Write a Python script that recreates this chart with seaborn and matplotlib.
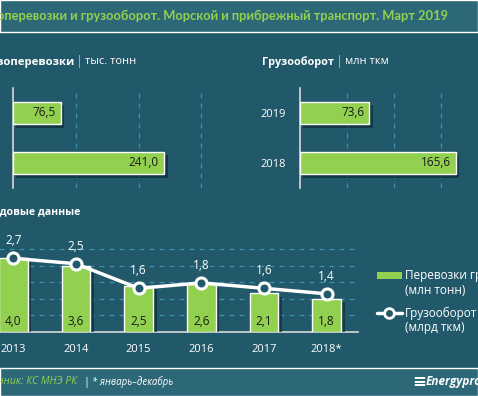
import numpy as np
import pandas as pd
import matplotlib
matplotlib.use('Agg')
import matplotlib.pyplot as plt
import matplotlib.patheffects as pe
from matplotlib.patches import Rectangle
from matplotlib.lines import Line2D
import seaborn as sns

# data
title = 'Грузоперевозки и грузооборот. Морской и прибрежный транспорт. Март 2019'
month_years = ['2019', '2018']
cargo_month = [76.5, 241.0]      # тыс. тонн
turnover_month = [73.6, 165.6]   # млн ткм

years = ['2013', '2014', '2015', '2016', '2017', '2018*']
cargo_year = [4.0, 3.6, 2.5, 2.6, 2.1, 1.8]      # млн тонн
turnover_year = [2.7, 2.5, 1.6, 1.8, 1.6, 1.4]   # млрд ткм
legend_labels = [('Перевозки грузов', '(млн тонн)'), ('Грузооборот', '(млрд ткм)')]

# colours
BG = '#22596a'
BAND = '#2c6878'
GREEN = '#92d050'
GRID = '#3f8fae'
AXIS = '#d9d9d9'

sns.set_theme(style='white')
plt.rcParams['font.family'] = ['Open Sans', 'DejaVu Sans']

W, H = 478, 396
fig = plt.figure(figsize=(W / 100, H / 100), dpi=100, facecolor=BG)


def px(x, y, w, h):
    # pixel box (top-left origin) -> figure fraction
    return [x / W, (H - y - h) / H, w / W, h / H]


def fx(x):
    return x / W


def fy(y):
    return 1 - y / H


def fmt(v):
    return f'{v:.1f}'.replace('.', ',')


shadow = [pe.SimplePatchShadow(offset=(2.5, -2.5), shadow_rgbFace='#0c2c36', alpha=0.7), pe.Normal()]

# title and footer bands
fig.patches.append(Rectangle((0, fy(32)), 1, 32 / H, transform=fig.transFigure,
                             facecolor=BAND, zorder=0))
fig.patches.append(Rectangle((0, 0), 1, 28 / H, transform=fig.transFigure,
                             facecolor=BAND, zorder=0))
fig.text(fx(448), fy(16), title, color=GREEN, fontsize=9.3, fontweight='bold',
         family='Lato', ha='right', va='center')


def month_panel(box, values, xmax, step):
    ax = fig.add_axes(px(*box))
    ax.set_facecolor('none')
    df = pd.DataFrame({'year': month_years, 'value': values})
    sns.barplot(data=df, x='value', y='year', orient='h', color=GREEN, width=0.45,
                saturation=1, ax=ax, zorder=3)
    for p in ax.patches:
        p.set_path_effects(shadow)
    for i, v in enumerate(values):
        ax.text(v - xmax * 0.025, i, fmt(v), ha='right', va='center', fontsize=8.5,
                color='#1a1a1a', zorder=4)
    ax.set_xlim(0, xmax)
    ax.set_ylim(1.5, -0.5)
    ax.set_xticks(np.arange(step, xmax, step))
    ax.xaxis.grid(True, color=GRID, linestyle=(0, (4, 4)), linewidth=0.9)
    ax.set_axisbelow(True)
    ax.tick_params(axis='x', length=0, labelbottom=False)
    ax.tick_params(axis='y', length=0, colors='white', labelsize=8, pad=10)
    ax.set_xlabel('')
    ax.set_ylabel('')
    for s in ['top', 'right', 'bottom']:
        ax.spines[s].set_visible(False)
    ax.spines['left'].set_color(AXIS)
    ax.spines['left'].set_linewidth(1.2)
    return ax


month_panel((13, 88, 214, 100), cargo_month, 341, 100)
month_panel((300, 88, 170, 100), turnover_month, 181, 50)

# panel headers
hy = fy(62)
fig.text(fx(74), hy, 'Грузоперевозки', color='white', fontsize=8.2, fontweight='bold',
         ha='right', va='center')
fig.text(fx(79), hy, '|', color='#7fc4e0', fontsize=9, ha='center', va='center')
fig.text(fx(85), hy, 'тыс. тонн', color='white', fontsize=8, ha='left', va='center')
fig.text(fx(262), hy, 'Грузооборот', color='white', fontsize=7.8, fontweight='bold',
         ha='left', va='center')
fig.text(fx(339), hy, '|', color='#7fc4e0', fontsize=9, ha='center', va='center')
fig.text(fx(345), hy, 'млн ткм', color='white', fontsize=8, ha='left', va='center')
fig.text(fx(80), fy(212), 'Годовые данные', color='white', fontsize=7.6,
         fontweight='bold', ha='right', va='center')

# annual panel
ax = fig.add_axes(px(-18, 240, 376, 92))
ax.set_facecolor('none')
dfy = pd.DataFrame({'year': years, 'cargo': cargo_year})
sns.barplot(data=dfy, x='year', y='cargo', color=GREEN, width=0.46, saturation=1,
            ax=ax, zorder=3)
for p in ax.patches:
    p.set_path_effects(shadow)
for i, v in enumerate(cargo_year):
    ax.annotate(fmt(v), (i, 0), xytext=(0, 7.5), textcoords='offset points',
                ha='center', va='center', fontsize=8.5, color='#1a1a1a', zorder=4)
ax.set_xlim(-0.5, len(years) - 0.5)
ax.set_ylim(0, 5)
ax.set_yticks(np.arange(0.9, 5, 0.9))
ax.yaxis.grid(True, color=GRID, linestyle=(0, (4, 4)), linewidth=0.9)
ax.set_axisbelow(True)
ax.tick_params(axis='y', length=0, labelleft=False)
ax.tick_params(axis='x', length=0, colors='white', labelsize=8, pad=9)
ax.set_xlabel('')
ax.set_ylabel('')
for s in ['top', 'right', 'left']:
    ax.spines[s].set_visible(False)
ax.spines['bottom'].set_color(AXIS)
ax.spines['bottom'].set_linewidth(1.2)

ax2 = ax.twinx()
sns.lineplot(x=np.arange(len(years)), y=turnover_year, ax=ax2, color='white',
             linewidth=2.5, marker='o', markersize=8, markerfacecolor=BG,
             markeredgecolor='white', markeredgewidth=2.2, zorder=5)
for i, v in enumerate(turnover_year):
    ax2.annotate(fmt(v), (i, v), xytext=(0, 12.5), textcoords='offset points',
                 ha='center', va='center', fontsize=8.5, color='white')
ax2.set_ylim(0, 92 / 27.3)
ax2.set_yticks([])
ax2.set_ylabel('')
for s in ax2.spines.values():
    s.set_visible(False)

# legend (drawn by hand so the key sits on the first text line)
fig.patches.append(Rectangle((fx(377), fy(279)), 25 / W, 7 / H, transform=fig.transFigure,
                             facecolor=GREEN, edgecolor='none'))
fig.lines.append(Line2D([fx(377), fx(402)], [fy(313), fy(313)], transform=fig.transFigure,
                        color='white', linewidth=2.5))
fig.lines.append(Line2D([fx(389)], [fy(313)], transform=fig.transFigure, marker='o',
                        markersize=7, markerfacecolor=BG, markeredgecolor='white',
                        markeredgewidth=2))
for (l1, l2), y in zip(legend_labels, [276, 313]):
    fig.text(fx(405), fy(y), l1, color='white', fontsize=8.5, ha='left', va='center')
    fig.text(fx(405), fy(y + 15), l2, color='white', fontsize=8.5, ha='left', va='center')

# footer
fty = 14 / H
fig.text(fx(77), fty, 'Источник: КС МНЭ РК', color=GREEN, fontsize=7.5, style='italic',
         ha='right', va='center')
fig.text(fx(86), fty, '|', color='white', fontsize=8, ha='center', va='center')
fig.text(fx(92), fty, '* январь–декабрь', color='white', fontsize=7, style='italic',
         ha='left', va='center')
fig.text(fx(426), fty, 'Energyprom.kz', color='white', fontsize=8.5, style='italic',
         fontweight='bold', ha='left', va='center')
fig.text(fx(419), fty, '≡', color='white', fontsize=12, fontweight='bold',
         ha='center', va='center')

fig.savefig('out.png', dpi=100, facecolor=BG)
